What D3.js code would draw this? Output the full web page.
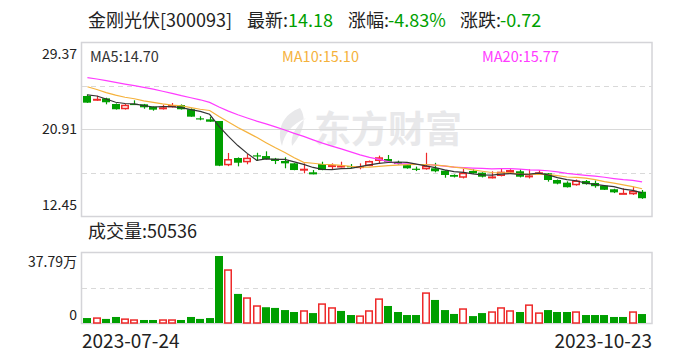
<!DOCTYPE html>
<html>
<head>
<meta charset="utf-8">
<script src="https://cdn.jsdelivr.net/npm/d3@7"></script>
<style>
	body { margin: 0; background: #fff; }
	svg text { font-family: 'Noto Sans CJK SC', 'Noto Sans', sans-serif; }
</style>
</head>
<body>
<script>
// trading days, 2023-07-24 .. 2023-10-23
var dates = [
	'2023-07-24', '2023-07-25', '2023-07-26', '2023-07-27', '2023-07-28', '2023-07-31',
	'2023-08-01', '2023-08-02', '2023-08-03', '2023-08-04', '2023-08-07', '2023-08-08', '2023-08-09', '2023-08-10',
	'2023-08-11', '2023-08-14', '2023-08-15', '2023-08-16', '2023-08-17', '2023-08-18', '2023-08-21', '2023-08-22',
	'2023-08-23', '2023-08-24', '2023-08-25', '2023-08-28', '2023-08-29', '2023-08-30', '2023-08-31',
	'2023-09-01', '2023-09-04', '2023-09-05', '2023-09-06', '2023-09-07', '2023-09-08', '2023-09-11', '2023-09-12',
	'2023-09-13', '2023-09-14', '2023-09-15', '2023-09-18', '2023-09-19', '2023-09-20', '2023-09-21', '2023-09-22',
	'2023-09-25', '2023-09-26', '2023-09-27', '2023-09-28',
	'2023-10-09', '2023-10-10', '2023-10-11', '2023-10-12', '2023-10-13', '2023-10-16', '2023-10-17', '2023-10-18',
	'2023-10-19', '2023-10-20', '2023-10-23'
];
var opens = [24.12, 23.70, 23.89, 23.34, 22.83, 23.35, 23.31, 23.08, 22.83, 23.02, 23.24, 22.83, 21.95, 21.85, 21.69,
	17.38, 18.09, 17.67, 18.35, 18.28, 18.02, 17.80, 17.57, 16.95, 16.70, 17.50, 17.28, 17.30, 17.30, 17.20,
	17.31, 17.80, 17.99, 17.70, 17.40, 17.05, 16.99, 17.09, 16.86, 16.44, 16.17, 16.83, 16.66, 16.25, 16.34,
	16.66, 16.80, 16.30, 16.60, 16.60, 15.95, 15.69, 15.44, 15.85, 15.66, 15.40, 15.05, 14.65, 14.56, 14.81];
var highs = [24.28, 24.15, 23.95, 23.40, 23.35, 23.70, 23.35, 23.10, 23.27, 23.44, 23.30, 22.92, 22.15, 22.10, 21.69,
	18.58, 18.15, 18.48, 18.60, 18.74, 18.10, 18.16, 17.60, 17.57, 16.92, 17.73, 17.57, 17.73, 17.50, 17.57,
	17.85, 18.32, 18.38, 17.83, 17.45, 17.25, 18.60, 17.62, 16.90, 16.50, 17.02, 16.99, 16.70, 16.80, 17.09,
	17.00, 16.99, 16.99, 16.92, 16.63, 16.00, 15.82, 16.00, 15.95, 15.90, 15.45, 15.10, 15.15, 15.30, 14.98];
var lows = [23.45, 23.65, 23.31, 22.80, 22.80, 23.28, 22.88, 22.69, 22.80, 23.00, 22.80, 22.10, 21.76, 21.60, 17.30,
	17.30, 17.28, 17.48, 17.80, 17.95, 17.50, 17.09, 16.90, 16.60, 16.50, 16.90, 17.02, 17.18, 17.10, 16.99,
	17.30, 17.57, 17.70, 17.45, 17.05, 16.82, 16.95, 16.70, 16.17, 16.20, 16.10, 16.55, 16.20, 16.10, 16.30,
	16.60, 16.20, 16.10, 16.44, 15.79, 15.53, 15.22, 15.40, 15.50, 15.20, 14.98, 14.68, 14.60, 14.50, 14.12];
var closes = [23.47, 23.85, 23.51, 22.83, 23.27, 23.32, 23.02, 22.79, 23.02, 23.24, 22.83, 22.11, 21.90, 21.62, 17.34,
	17.99, 17.63, 18.12, 18.25, 17.99, 17.80, 17.57, 16.92, 17.05, 16.50, 16.92, 17.40, 17.36, 17.25, 17.30,
	17.80, 18.16, 17.73, 17.50, 17.09, 17.00, 17.34, 16.80, 16.44, 16.27, 16.66, 16.60, 16.27, 16.30, 16.76,
	16.92, 16.27, 16.40, 16.70, 15.95, 15.60, 15.25, 15.90, 15.55, 15.35, 15.00, 14.75, 14.70, 14.90, 14.18];
// volume in 万手
var volumes = [2.8, 3.2, 2.3, 3.4, 2.6, 2.1, 1.7, 1.7, 2.1, 2.1, 1.7, 3.4, 2.3, 2.8, 37.79,
	30.3, 16.4, 14.5, 10.0, 8.9, 8.5, 7.3, 6.2, 7.2, 5.6, 11.1, 8.9, 6.8, 4.5, 4.3,
	7.2, 13.9, 9.6, 6.2, 4.5, 4.5, 17.3, 13.0, 7.3, 5.1, 8.3, 3.9, 5.6, 6.6, 8.9,
	7.2, 6.2, 10.5, 6.0, 7.3, 6.2, 6.2, 6.6, 4.5, 4.5, 4.5, 3.4, 3.4, 6.6, 5.0536];
var ma5 = [24.22, 24.12, 23.83, 23.51, 23.39, 23.36, 23.19, 23.05, 23.08, 23.08, 22.98, 22.80, 22.62, 22.34, 21.16,
	20.19, 19.30, 18.54, 17.87, 18.00, 17.96, 17.95, 17.71, 17.47, 17.17, 16.99, 16.96, 17.05, 17.09, 17.25,
	17.42, 17.57, 17.65, 17.70, 17.66, 17.50, 17.33, 17.15, 16.93, 16.77, 16.70, 16.55, 16.45, 16.42, 16.52,
	16.57, 16.50, 16.53, 16.61, 16.45, 16.18, 15.98, 15.88, 15.65, 15.53, 15.41, 15.31, 15.07, 14.94, 14.70];
var ma10 = [25.02, 24.75, 24.45, 24.20, 24.00, 23.85, 23.65, 23.50, 23.35, 23.23, 23.17, 22.99, 22.83, 22.71, 22.12,
	21.59, 21.05, 20.58, 20.10, 19.58, 19.08, 18.62, 18.12, 17.67, 17.58, 17.48, 17.45, 17.38, 17.28, 17.21,
	17.21, 17.27, 17.35, 17.39, 17.45, 17.46, 17.46, 17.40, 17.32, 17.21, 17.10, 16.94, 16.80, 16.68, 16.64,
	16.64, 16.53, 16.49, 16.52, 16.48, 16.38, 16.24, 16.21, 16.13, 15.99, 15.80, 15.65, 15.48, 15.30, 15.10];
var ma20 = [25.90, 25.77, 25.62, 25.45, 25.28, 25.12, 24.95, 24.78, 24.58, 24.38, 24.15, 23.95, 23.75, 23.50, 23.05,
	22.65, 22.30, 21.98, 21.68, 21.41, 21.12, 20.81, 20.48, 20.19, 19.85, 19.53, 19.25, 18.98, 18.69, 18.40,
	18.15, 17.95, 17.74, 17.53, 17.52, 17.47, 17.46, 17.39, 17.30, 17.21, 17.16, 17.11, 17.08, 17.04, 17.05,
	17.05, 17.00, 16.94, 16.92, 16.85, 16.74, 16.59, 16.50, 16.40, 16.32, 16.22, 16.09, 15.98, 15.91, 15.77];
var priceTicks = ['12.45', '20.91', '29.37'];
var volumeTicks = ['0', '37.79万'];
var stockName = '金刚光伏[300093]';
var lastPrice = '14.18';
var changePct = '-4.83%';
var changeAmt = '-0.72';
var lastVolume = '50536';

function MyKlineChart() {
	this.chart = {};
	this.props = {};
	this.props.width = 688;
	this.props.height = 360;
	this.props.left = 81;
	this.props.right = 651.5;
	this.props.price = { top: 42, bottom: 216 };
	this.props.volume = { top: 252, bottom: 323 };
	this.props.colors = {
		up: '#ee2a2a',
		down: '#009f00',
		grid: '#d9d9d9',
		frame: '#d4d4d8',
		text: '#222',
		ma5: '#333',
		ma10: '#f5b23c',
		ma20: '#ff3cff'
	};
}

MyKlineChart.prototype.createChart = function() {
	this.chart.svg = d3.select('body')
	.append('svg')
		.attr('width', this.props.width)
		.attr('height', this.props.height);

	this.chart.x = d3.scaleBand()
		.domain(dates)
		.range([82, 647.5])
		.padding(0.15);
	this.chart.y = d3.scaleLinear()
		.domain([+priceTicks[0], +priceTicks[2]])
		.range([this.props.price.bottom, this.props.price.top]);
	this.chart.v = d3.scaleLinear()
		.domain([0, 37.79])
		.range([this.props.volume.bottom, 256]);
}

MyKlineChart.prototype.addTitle = function() {
	var c = this.props.colors;
	var parts = [
		{ t: stockName, x: 88, color: c.text },
		{ t: '最新:', x: 247, color: c.text },
		{ t: lastPrice, x: 288, color: c.down },
		{ t: '涨幅:', x: 348, color: c.text },
		{ t: changePct, x: 388, color: c.down },
		{ t: '涨跌:', x: 460, color: c.text },
		{ t: changeAmt, x: 500, color: c.down }
	];
	this.chart.svg.append('g')
		.selectAll('text')
		.data(parts)
		.enter()
		.append('text')
			.attr('x', function(d) { return d.x; })
			.attr('y', 27)
			.style('font-size', '18px')
			.style('fill', function(d) { return d.color; })
			.text(function(d) { return d.t; });
}

MyKlineChart.prototype.addWatermark = function() {
	var g = this.chart.svg.append('g')
		.attr('fill', '#e8e8ea');
	g.append('path')
		.attr('d', 'M300,108 C284,114 276,128 282,146 C284,134 292,124 306,118 C296,126 290,136 292,146 C302,134 308,120 300,108 Z');
	g.append('text')
		.attr('x', 314)
		.attr('y', 143)
		.style('font-size', '37px')
		.style('font-weight', 'bold')
		.text('东方财富');
}

MyKlineChart.prototype.addFrames = function() {
	var that = this;
	var p = this.props;
	var svg = this.chart.svg;

	[p.price, p.volume].forEach(function(box) {
		svg.append('rect')
			.attr('x', p.left + 0.5)
			.attr('y', box.top + 0.5)
			.attr('width', p.right - p.left)
			.attr('height', box.bottom - box.top)
			.attr('fill', 'none')
			.attr('stroke', p.colors.frame)
			.attr('stroke-width', 1.5);
	});

	// price grid: quarter lines dashed, middle solid
	var step = (p.price.bottom - p.price.top) / 4;
	[1, 2, 3].forEach(function(k) {
		var yy = Math.round(p.price.top + step * k) + 0.5;
		svg.append('line')
			.attr('x1', p.left + 1)
			.attr('x2', p.right)
			.attr('y1', yy)
			.attr('y2', yy)
			.attr('stroke', p.colors.grid)
			.attr('stroke-dasharray', k === 2 ? null : '5,4');
	});
	var vm = Math.round((p.volume.top + p.volume.bottom) / 2) + 0.5;
	svg.append('line')
		.attr('x1', p.left + 1)
		.attr('x2', p.right)
		.attr('y1', vm)
		.attr('y2', vm)
		.attr('stroke', p.colors.grid)
		.attr('stroke-dasharray', '5,4');

	// price labels sit inside the frame edges
	var priceY = [p.price.bottom - 6, (p.price.top + p.price.bottom) / 2 + 5, p.price.top + 17];
	svg.append('g')
		.selectAll('text')
		.data(priceTicks)
		.enter()
		.append('text')
			.attr('x', 77)
			.attr('y', function(d, i) { return priceY[i]; })
			.style('text-anchor', 'end')
			.style('font-size', '14px')
			.style('fill', p.colors.text)
			.text(function(d) { return d; });

	var volY = [p.volume.bottom - 3, p.volume.top + 15];
	svg.append('g')
		.selectAll('text')
		.data(volumeTicks)
		.enter()
		.append('text')
			.attr('x', 77)
			.attr('y', function(d, i) { return volY[i]; })
			.style('text-anchor', 'end')
			.style('font-size', '14px')
			.style('fill', p.colors.text)
			.text(function(d) { return d; });
}

MyKlineChart.prototype.addCandles = function() {
	var that = this;
	var c = this.props.colors;
	var x = this.chart.x, y = this.chart.y;
	var bw = Math.round(x.bandwidth());
	var rows = dates.map(function(d, i) {
		return { date: d, o: opens[i], h: highs[i], l: lows[i], c: closes[i] };
	});

	var g = this.chart.svg.append('g').attr('class', 'candles');
	var candle = g.selectAll('g')
		.data(rows)
		.enter()
		.append('g');

	candle.append('line')
		.attr('x1', function(d) { return Math.round(x(d.date)) + Math.floor(bw / 2) + 0.5; })
		.attr('x2', function(d) { return Math.round(x(d.date)) + Math.floor(bw / 2) + 0.5; })
		.attr('y1', function(d) { return y(d.h); })
		.attr('y2', function(d) { return y(d.l); })
		.attr('stroke', function(d) { return d.c >= d.o ? c.up : c.down; })
		.attr('stroke-width', 1.2);

	candle.append('rect')
		.attr('x', function(d) { return Math.round(x(d.date)) + (d.c >= d.o ? 0.75 : 0); })
		.attr('y', function(d) { return y(Math.max(d.o, d.c)) + (d.c >= d.o ? 0.75 : 0); })
		.attr('width', function(d) { return d.c >= d.o ? bw - 1.5 : bw; })
		.attr('height', function(d) {
			var hh = Math.abs(y(d.o) - y(d.c));
			return d.c >= d.o ? Math.max(hh - 1.5, 0.5) : Math.max(hh, 1.2);
		})
		.attr('fill', function(d) { return d.c >= d.o ? '#fff' : c.down; })
		.attr('stroke', function(d) { return d.c >= d.o ? c.up : 'none'; })
		.attr('stroke-width', 1.5);
}

MyKlineChart.prototype.addMovingAverages = function() {
	var x = this.chart.x, y = this.chart.y;
	var half = x.bandwidth() / 2;
	var c = this.props.colors;
	var line = d3.line()
		.x(function(d, i) { return x(dates[i]) + half; })
		.y(function(d) { return y(d); });
	var series = [
		{ values: ma20, color: c.ma20 },
		{ values: ma10, color: c.ma10 },
		{ values: ma5, color: c.ma5 }
	];
	this.chart.svg.append('g')
		.selectAll('path')
		.data(series)
		.enter()
		.append('path')
			.attr('d', function(d) { return line(d.values); })
			.attr('fill', 'none')
			.attr('stroke', function(d) { return d.color; })
			.attr('stroke-width', 1.2);

	var legend = [
		{ t: 'MA5:' + ma5[ma5.length - 1].toFixed(2), x: 90, color: c.ma5 },
		{ t: 'MA10:' + ma10[ma10.length - 1].toFixed(2), x: 282, color: c.ma10 },
		{ t: 'MA20:' + ma20[ma20.length - 1].toFixed(2), x: 482, color: c.ma20 }
	];
	this.chart.svg.append('g')
		.selectAll('text')
		.data(legend)
		.enter()
		.append('text')
			.attr('x', function(d) { return d.x; })
			.attr('y', 62)
			.style('font-size', '14.5px')
			.style('fill', function(d) { return d.color; })
			.text(function(d) { return d.t; });
}

MyKlineChart.prototype.addVolume = function() {
	var x = this.chart.x, v = this.chart.v;
	var c = this.props.colors;
	var bw = Math.round(x.bandwidth());
	var bottom = this.props.volume.bottom;

	this.chart.svg.append('text')
		.attr('x', 88)
		.attr('y', 238)
		.style('font-size', '18px')
		.style('fill', this.props.colors.text)
		.text('成交量:' + lastVolume);

	// bar colour follows close versus previous close
	var rising = function(i) {
		return i === 0 ? closes[0] >= opens[0] : closes[i] >= closes[i - 1];
	};

	this.chart.svg.append('g')
		.selectAll('rect')
		.data(volumes)
		.enter()
		.append('rect')
			.attr('x', function(d, i) { return Math.round(x(dates[i])) + (rising(i) ? 0.75 : 0); })
			.attr('y', function(d, i) { return v(d) + (rising(i) ? 0.75 : 0); })
			.attr('width', function(d, i) { return rising(i) ? bw - 1.5 : bw; })
			.attr('height', function(d, i) { return bottom - v(d) - (rising(i) ? 0.75 : 0); })
			.attr('fill', function(d, i) { return rising(i) ? '#fff' : c.down; })
			.attr('stroke', function(d, i) { return rising(i) ? c.up : 'none'; })
			.attr('stroke-width', 1.5);

	this.chart.svg.append('text')
		.attr('x', 82)
		.attr('y', 348)
		.style('font-size', '19px')
		.style('fill', this.props.colors.text)
		.text(dates[0]);
	this.chart.svg.append('text')
		.attr('x', 652)
		.attr('y', 348)
		.style('text-anchor', 'end')
		.style('font-size', '19px')
		.style('fill', this.props.colors.text)
		.text(dates[dates.length - 1]);
}

var chart = new MyKlineChart();
chart.createChart();
chart.addTitle();
chart.addWatermark();
chart.addFrames();
chart.addCandles();
chart.addMovingAverages();
chart.addVolume();
</script>
</body>
</html>
